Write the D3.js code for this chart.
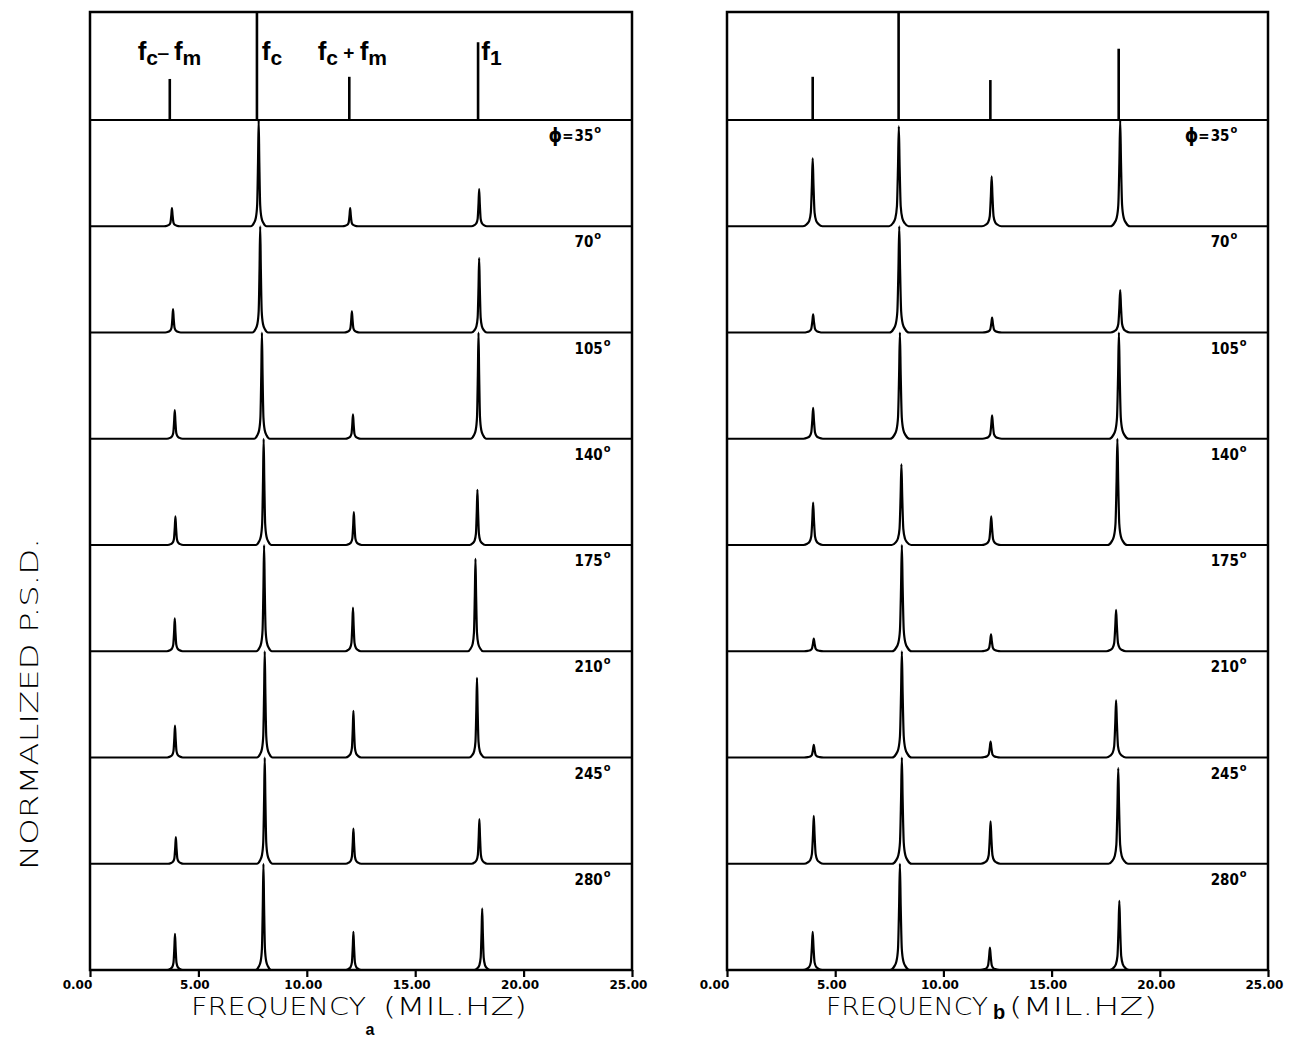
<!DOCTYPE html>
<html>
<head>
<meta charset="utf-8">
<script src="https://cdn.jsdelivr.net/npm/d3@7"></script>
<style>
	body { margin: 0; background: #fff; }
	text { fill: #000; }
</style>
</head>
<body>
<svg id="psd_svg"></svg>
<script>
// ---- data ----
const freqMax = 25;
const xTicks = [0, 5, 10, 15, 20, 25];
const phiLabels = ["35", "70", "105", "140", "175", "210", "245", "280"];
const lineNames = ["fc-fm", "fc", "fc+fm", "f1"];

// reference stems in the top box (MHz, fraction of box height)
const refFreqA = [3.68, 7.7, 11.96, 17.9];
const refHeightA = [0.38, 1.0, 0.40, 0.72];
const refFreqB = [3.96, 7.93, 12.17, 18.1];
const refHeightB = [0.40, 1.0, 0.37, 0.66];

// panel a: peak positions per row (scan drifts a little) and heights (fraction of strip)
const peakFreqA = [
	[3.78, 7.78, 12.00, 17.95],
	[3.83, 7.85, 12.08, 17.95],
	[3.91, 7.93, 12.13, 17.92],
	[3.94, 8.01, 12.17, 17.87],
	[3.91, 8.03, 12.13, 17.78],
	[3.92, 8.06, 12.15, 17.85],
	[3.96, 8.06, 12.15, 17.96],
	[3.92, 8.00, 12.15, 18.09]
];
const peakHeightA = [
	[0.17, 1.0, 0.17, 0.35],
	[0.22, 1.0, 0.20, 0.70],
	[0.27, 1.0, 0.23, 1.0],
	[0.27, 1.0, 0.31, 0.52],
	[0.31, 1.0, 0.41, 0.87],
	[0.30, 1.0, 0.44, 0.75],
	[0.25, 1.0, 0.33, 0.42],
	[0.34, 1.0, 0.36, 0.58]
];

// panel b
const peakFreqB = [
	[3.96, 7.94, 12.23, 18.17],
	[3.98, 7.96, 12.25, 18.17],
	[3.98, 7.99, 12.25, 18.11],
	[3.98, 8.06, 12.21, 18.04],
	[4.01, 8.08, 12.20, 17.98],
	[4.01, 8.08, 12.18, 17.98],
	[4.01, 8.08, 12.18, 18.08],
	[3.96, 7.99, 12.15, 18.13]
];
const peakHeightB = [
	[0.64, 0.94, 0.47, 1.0],
	[0.17, 1.0, 0.14, 0.40],
	[0.29, 1.0, 0.22, 1.0],
	[0.40, 0.76, 0.27, 1.0],
	[0.12, 1.0, 0.16, 0.39],
	[0.12, 1.0, 0.15, 0.54],
	[0.45, 1.0, 0.40, 0.90],
	[0.36, 1.0, 0.21, 0.65]
];

// shape of one peak as traced: offset (MHz), fraction of peak height
const peakProfile = [
	[-0.36, 0], [-0.22, 0.03], [-0.13, 0.08], [-0.07, 0.2], [-0.03, 0.6],
	[0, 1],
	[0.03, 0.6], [0.07, 0.2], [0.13, 0.08], [0.22, 0.03], [0.36, 0]
];

// ---- layout ----
const width = 1296;
const height = 1039;
const frameTop = 12;
const boxBottom = 120;
const axisY = 970;
const nRows = phiLabels.length;
const stripH = (axisY - boxBottom) / nRows;

const labelFont = "'Liberation Sans Narrow', 'DejaVu Sans Condensed', 'Liberation Sans', sans-serif";
const plotterFont = "'DejaVu Sans', sans-serif";

const svg = d3.select("#psd_svg")
	.attr("width", width)
	.attr("height", height);

const panels = [
	{ key: "a", left: 90, right: 632, refFreq: refFreqA, refHeight: refHeightA, freqs: peakFreqA, heights: peakHeightA, spread: 1.0 },
	{ key: "b", left: 727, right: 1268, refFreq: refFreqB, refHeight: refHeightB, freqs: peakFreqB, heights: peakHeightB, spread: 1.25 }
];

panels.forEach(p => drawPanel(p));

function drawPanel(p) {
	const x = d3.scaleLinear().domain([0, freqMax]).range([p.left, p.right]);
	const g = svg.append("g");

	// outer frame
	g.append("rect")
		.attr("x", p.left)
		.attr("y", frameTop)
		.attr("width", p.right - p.left)
		.attr("height", axisY - frameTop)
		.attr("fill", "none")
		.attr("stroke", "#000")
		.attr("stroke-width", 2.5);

	// top box with reference stems
	g.append("line")
		.attr("x1", p.left).attr("x2", p.right)
		.attr("y1", boxBottom).attr("y2", boxBottom)
		.attr("stroke", "#000")
		.attr("stroke-width", 2.2);

	const yRef = d3.scaleLinear().domain([0, 1]).range([boxBottom, frameTop]);
	g.selectAll(".stem")
		.data(d3.zip(p.refFreq, p.refHeight))
		.join("line")
		.attr("class", "stem")
		.attr("x1", d => x(d[0])).attr("x2", d => x(d[0]))
		.attr("y1", yRef(0)).attr("y2", d => yRef(d[1]))
		.attr("stroke", "#000")
		.attr("stroke-width", 2.6);

	// one spectrum per strip
	const line = d3.line()
		.x(d => x(d[0]))
		.curve(d3.curveMonotoneX);

	p.freqs.forEach((row, i) => {
		const base = boxBottom + (i + 1) * stripH;
		const y = d3.scaleLinear().domain([0, 1]).range([base, base - stripH]);
		const pts = [[0, 0]];
		row.forEach((f, k) => {
			peakProfile.forEach(([dx, dy]) => pts.push([f + dx * p.spread, dy * p.heights[i][k]]));
		});
		pts.push([freqMax, 0]);

		g.append("path")
			.datum(pts)
			.attr("d", line.y(d => y(d[1])))
			.attr("fill", "none")
			.attr("stroke", "#000")
			.attr("stroke-width", 2.2)
			.attr("stroke-linejoin", "round");

		// angle label
		const lx = x(22.35);
		const ly = base - stripH + 21;
		const lab = g.append("text")
			.attr("x", lx)
			.attr("y", ly)
			.attr("font-family", labelFont)
			.attr("font-weight", "bold")
			.attr("font-size", 15)
			.text(phiLabels[i]);
		lab.append("tspan")
			.attr("dy", -8)
			.attr("dx", 1)
			.attr("font-size", 11)
			.text("o");
		if (i === 0) {
			const phi = g.append("text")
				.attr("x", lx - 1)
				.attr("y", ly)
				.attr("text-anchor", "end")
				.attr("font-family", labelFont)
				.attr("font-weight", "bold")
				.attr("font-size", 15);
			phi.append("tspan").attr("font-size", 19).attr("dy", 1).text("\u03D5");
			phi.append("tspan").attr("dy", -1).text(p.key === "b" ? "= " : "=");
		}
	});

	// bottom axis
	const axis = d3.axisBottom(x)
		.tickValues(xTicks)
		.tickSize(7)
		.tickPadding(3)
		.tickFormat(d3.format(".2f"));

	const ax = svg.append("g")
		.attr("transform", `translate(0, ${axisY})`)
		.call(axis);
	ax.select(".domain").remove();
	ax.selectAll(".tick line").attr("stroke", "#000").attr("stroke-width", 2.2);
	ax.selectAll(".tick text")
		.attr("dx", d => d === 0 ? -13 : -4)
		.attr("font-family", "'DejaVu Sans', sans-serif")
		.attr("font-weight", "bold")
		.attr("font-size", 12);
}

// line name labels in the top box of panel a
const xa = d3.scaleLinear().domain([0, freqMax]).range([panels[0].left, panels[0].right]);
const nameLayout = [
	{ f: "f", sub: "c", op: "\u2012 ", f2: "f", sub2: "m", at: 2.2 },
	{ f: "f", sub: "c", at: 7.92 },
	{ f: "f", sub: "c", op: " + ", f2: "f", sub2: "m", at: 10.5 },
	{ f: "f", sub: "1", at: 18.05 }
];
nameLayout.forEach((n, i) => {
	const t = svg.append("text")
		.attr("x", xa(n.at))
		.attr("y", 60)
		.attr("font-family", "'Liberation Sans', Arial, sans-serif")
		.attr("font-weight", "bold")
		.attr("font-size", 26)
		.attr("data-name", lineNames[i]);
	t.append("tspan").text(n.f);
	t.append("tspan").attr("dy", 5).attr("font-size", 21).text(n.sub);
	if (n.op) {
		t.append("tspan").attr("dy", -6).attr("font-size", 19).text(n.op);
		t.append("tspan").attr("dy", 1).attr("font-size", 26).text(n.f2);
		t.append("tspan").attr("dy", 5).attr("font-size", 21).text(n.sub2);
	}
});

// axis titles (thin plotter lettering)
function plotterText(x0, x1, y, str, size) {
	return svg.append("text")
		.attr("x", x0)
		.attr("y", y)
		.attr("font-family", plotterFont)
		.attr("font-weight", 200)
		.attr("font-size", size)
		.attr("textLength", x1 - x0)
		.attr("lengthAdjust", "spacingAndGlyphs")
		.text(str);
}

plotterText(191, 366, 1015, "FREQUENCY", 25);
plotterText(383, 527, 1015, "(MIL.HZ)", 25);
plotterText(826, 988, 1015, "FREQUENCY", 25);
plotterText(1009, 1157, 1015, "(MIL.HZ)", 25);

svg.append("text")
	.attr("x", 370)
	.attr("y", 1035)
	.attr("text-anchor", "middle")
	.attr("font-family", "'Liberation Sans', Arial, sans-serif")
	.attr("font-weight", "bold")
	.attr("font-size", 16)
	.text("a");

svg.append("text")
	.attr("x", 999)
	.attr("y", 1019)
	.attr("text-anchor", "middle")
	.attr("font-family", "'Liberation Sans', Arial, sans-serif")
	.attr("font-weight", "bold")
	.attr("font-size", 20)
	.text("b");

svg.append("text")
	.attr("transform", "translate(38, 870) rotate(-90)")
	.attr("x", 0)
	.attr("y", 0)
	.attr("font-family", plotterFont)
	.attr("font-weight", 200)
	.attr("font-size", 24)
	.attr("textLength", 332)
	.attr("lengthAdjust", "spacingAndGlyphs")
	.text("NORMALIZED P.S.D.");
</script>
</body>
</html>
